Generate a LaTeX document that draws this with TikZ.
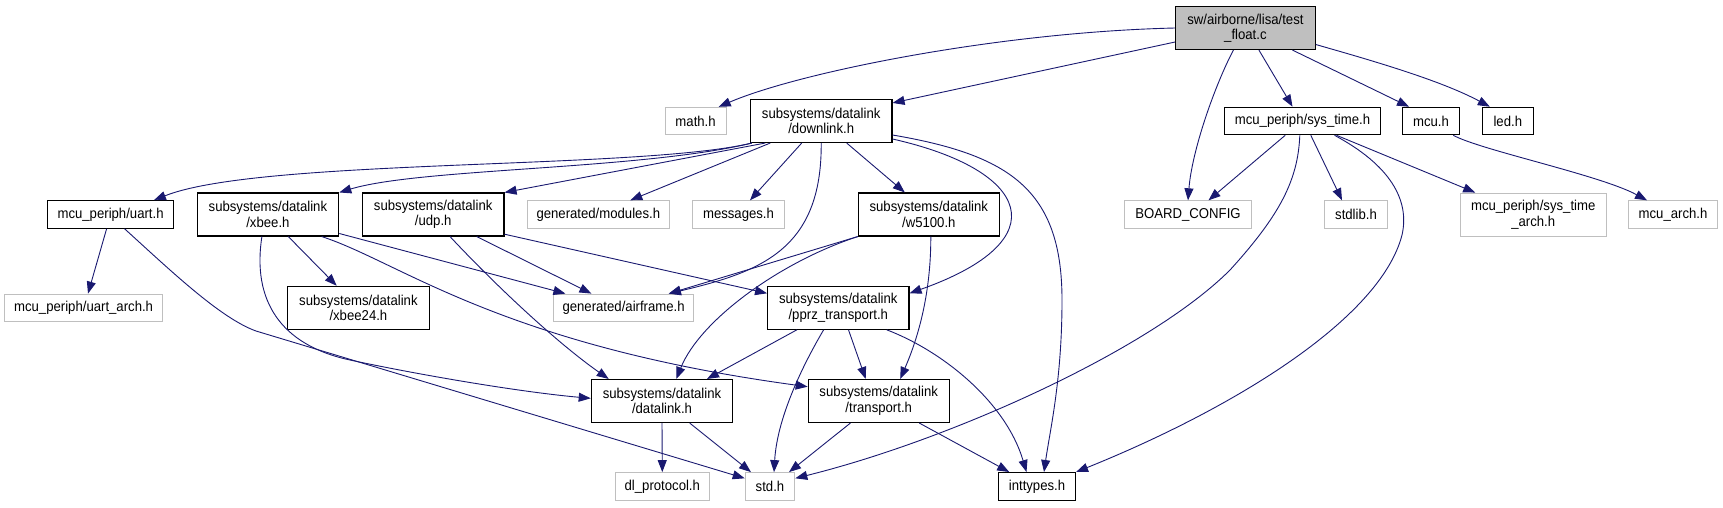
\documentclass[tikz,border=0pt]{standalone}
\usepackage{fontspec}
\setmainfont[FakeStretch=0.92]{Liberation Sans}
\usetikzlibrary{arrows.meta}
\definecolor{cEdge}{RGB}{25,25,112}
\definecolor{cGray}{RGB}{191,191,191}
\newcommand{\graphfont}{\fontsize{14.3}{15.5}\selectfont}

\begin{document}
\begin{tikzpicture}[x=1pt,y=-1pt,
    doc/.style={rectangle,draw=black,line width=1.1pt,fill=white,inner sep=0pt,minimum height=27.5pt,align=center,font=\graphfont},
    undoc/.style={doc,draw=cGray,line width=0.9pt},
    twoline/.style={minimum height=43pt},
    dep/.style={->,draw=cEdge,line width=0.9pt},
    >={Triangle[length=12pt,width=9pt]}
  ]
  \useasboundingbox (0,0) rectangle (1723,507);

  % rank 0 and 1
  \node[doc,twoline,fill=cGray,minimum width=139.6pt] (root) at (1245.4,28) {sw/airborne/lisa/test\\\_float.c};
  \node[undoc,minimum width=61.3pt] (math) at (695.6,121) {math.h};
  \node[doc,twoline,minimum width=141.6pt] (downlink) at (821.2,121) {subsystems/datalink\\/downlink.h};
  \node[doc,minimum width=155.3pt] (systime) at (1302.5,121) {mcu\_periph/sys\_time.h};
  \node[doc,minimum width=57.8pt] (mcu) at (1431,121) {mcu.h};
  \node[doc,minimum width=50.5pt] (led) at (1507.8,121) {led.h};

  % rank 2
  \node[doc,minimum width=125.5pt] (uart) at (110.6,214.5) {mcu\_periph/uart.h};
  \node[doc,twoline,minimum width=141.7pt] (xbee) at (267.9,214.5) {subsystems/datalink\\/xbee.h};
  \node[doc,twoline,minimum width=141.6pt] (udp) at (433.2,214.5) {subsystems/datalink\\/udp.h};
  \node[undoc,minimum width=142pt] (modules) at (598.3,214.5) {generated/modules.h};
  \node[undoc,minimum width=91.6pt] (messages) at (738.5,214.5) {messages.h};
  \node[doc,twoline,minimum width=141pt] (w5100) at (928.8,214.5) {subsystems/datalink\\/w5100.h};
  \node[undoc,minimum width=126.7pt] (board) at (1188,214.5) {BOARD\_CONFIG};
  \node[undoc,minimum width=62.4pt] (stdlib) at (1356,214.5) {stdlib.h};
  \node[undoc,twoline,minimum width=146pt] (systimearch) at (1533.2,214.5) {mcu\_periph/sys\_time\\\_arch.h};
  \node[undoc,minimum width=89.6pt] (mcuarch) at (1673,214.5) {mcu\_arch.h};

  % rank 3
  \node[undoc,minimum width=158pt] (uartarch) at (83.6,307.8) {mcu\_periph/uart\_arch.h};
  \node[doc,twoline,minimum width=141.5pt] (xbee24) at (358.4,307.8) {subsystems/datalink\\/xbee24.h};
  \node[undoc,minimum width=139.5pt] (airframe) at (623.6,307.8) {generated/airframe.h};
  \node[doc,twoline,minimum width=141.4pt] (pprz) at (838.3,307.8) {subsystems/datalink\\/pprz\_transport.h};

  % rank 4 and 5
  \node[doc,twoline,minimum width=141.5pt] (datalink) at (662,401) {subsystems/datalink\\/datalink.h};
  \node[doc,twoline,minimum width=141pt] (transport) at (878.7,401) {subsystems/datalink\\/transport.h};
  \node[undoc,minimum width=94.6pt] (dlproto) at (662.3,486.3) {dl\_protocol.h};
  \node[undoc,minimum width=49.7pt] (std) at (770,486.3) {std.h};
  \node[doc,minimum width=77pt] (inttypes) at (1037,486.3) {inttypes.h};

  % test_float.c
  \draw[dep] (root.west) .. controls (1000,32) and (800,72) .. ([xshift=-8pt]math.north east);
  \draw[dep] ([yshift=-14pt]root.west) -- ([yshift=-4pt]downlink.north east);
  \draw[dep] ([xshift=-12pt]root.south) .. controls (1215,85) and (1192,150) .. (board.north);
  \draw[dep] ([xshift=13.5pt]root.south) -- ([xshift=-10pt]systime.north);
  \draw[dep] ([xshift=47pt]root.south) -- ([xshift=-22pt]mcu.north);
  \draw[dep] ([yshift=-16.5pt]root.east) .. controls (1370,60) and (1440,80) .. ([xshift=-18pt]led.north);

  % downlink.h
  \draw[dep] ([xshift=2pt]downlink.south west) .. controls (640,170) and (260,158) .. ([xshift=-20pt]uart.north east);
  \draw[dep] ([xshift=2pt]downlink.south west) .. controls (640,170) and (420,168) .. (xbee.north east);
  \draw[dep] ([xshift=-56pt]downlink.south) -- (udp.north east);
  \draw[dep] ([xshift=-51pt]downlink.south) -- ([xshift=32pt]modules.north);
  \draw[dep] ([xshift=-19.5pt]downlink.south) -- ([xshift=11.5pt]messages.north);
  \draw[dep] (downlink.south) .. controls (822,250) and (760,272) .. ([xshift=-25pt]airframe.north east);
  \draw[dep] ([xshift=25.5pt]downlink.south) -- ([xshift=-24pt]w5100.north);
  \draw[dep] ([yshift=-18pt]downlink.east) .. controls (1030,170) and (1060,240) .. ([yshift=14.5pt]pprz.east);
  \draw[dep] ([yshift=-14pt]downlink.east) .. controls (1010,155) and (1062,190) .. (1062,300)
    .. controls (1062,380) and (1050,430) .. ([xshift=7pt]inttypes.north);

  % uart.h, xbee.h, udp.h
  \draw[dep] ([xshift=-4pt]uart.south) -- ([xshift=4.4pt]uartarch.north);
  \draw[dep] ([xshift=14pt]uart.south) .. controls (170,270) and (220,318) .. (256,331) -- ([yshift=8pt]std.west);
  \draw[dep] ([xshift=20.4pt]xbee.south) -- ([xshift=-21.7pt]xbee24.north);
  \draw[dep] ([yshift=-19pt]xbee.east) -- ([xshift=12pt]airframe.north west);
  \draw[dep] ([xshift=53.8pt]xbee.south) .. controls (400,262) and (500,345) .. ([yshift=14.3pt]transport.west);
  \draw[dep] ([xshift=-6pt]xbee.south) .. controls (252,300) and (280,345) .. (350,360)
    .. controls (420,375) and (520,392) .. ([yshift=2.7pt]datalink.west);
  \draw[dep] ([xshift=16.8pt]udp.south) .. controls (500,290) and (560,345) .. ([xshift=18pt]datalink.north west);
  \draw[dep] ([xshift=43.5pt]udp.south) -- ([xshift=38pt]airframe.north west);
  \draw[dep] ([yshift=-19.7pt]udp.east) -- ([yshift=14.5pt]pprz.west);

  % w5100.h
  \draw[dep] (w5100.south west) -- ([xshift=-25pt]airframe.north east);
  \draw[dep] (w5100.south west) .. controls (780,262) and (700,320) .. ([xshift=14.3pt]datalink.north);
  \draw[dep] ([xshift=2pt]w5100.south) .. controls (931,300) and (915,345) .. ([xshift=21.5pt]transport.north);

  % sys_time.h and mcu.h
  \draw[dep] ([xshift=-17.3pt]systime.south) -- ([xshift=20.5pt]board.north);
  \draw[dep] ([xshift=-2.7pt]systime.south) .. controls (1298,180) and (1280,215) .. (1230,270)
    .. controls (1150,350) and (950,440) .. ([yshift=8pt]std.east);
  \draw[dep] ([xshift=8.3pt]systime.south) -- ([xshift=-14pt]stdlib.north);
  \draw[dep] ([xshift=32pt]systime.south) .. controls (1390,165) and (1410,200) .. (1402,235)
    .. controls (1380,320) and (1230,410) .. (inttypes.north east);
  \draw[dep] ([xshift=34pt]systime.south) -- ([xshift=-58pt]systimearch.north);
  \draw[dep] ([xshift=22.3pt]mcu.south) .. controls (1480,150) and (1600,175) .. ([xshift=-26pt]mcuarch.north);

  % pprz_transport.h, datalink.h, transport.h
  \draw[dep] ([xshift=-41.5pt]pprz.south) -- ([xshift=45pt]datalink.north);
  \draw[dep] ([xshift=-14.7pt]pprz.south) .. controls (800,370) and (777,420) .. ([xshift=4pt]std.north);
  \draw[dep] ([xshift=10.2pt]pprz.south) -- ([xshift=-13pt]transport.north);
  \draw[dep] ([xshift=48.5pt]pprz.south) .. controls (940,350) and (1005,400) .. ([xshift=-10.5pt]inttypes.north);
  \draw[dep] (datalink.south) -- (dlproto.north);
  \draw[dep] ([xshift=27.7pt]datalink.south) -- ([xshift=-19pt]std.north);
  \draw[dep] ([xshift=-28.3pt]transport.south) -- ([xshift=19pt]std.north);
  \draw[dep] ([xshift=40.6pt]transport.south) -- ([xshift=-27.8pt]inttypes.north);
\end{tikzpicture}
\end{document}
